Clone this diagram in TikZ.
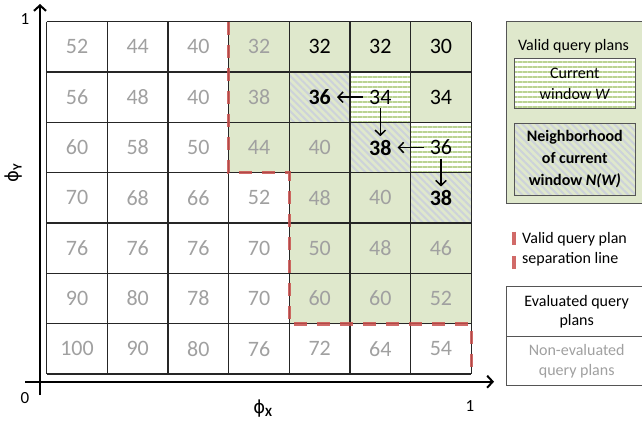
\documentclass[tikz,border=0pt]{standalone}
\usepackage{fontspec}
\setmainfont{Carlito}
\newfontfamily\phifont{DejaVu Sans}
\usetikzlibrary{arrows.meta,patterns.meta}
\definecolor{validgreen}{HTML}{DFE8CC}
\definecolor{stripegreen}{HTML}{BAD392}
\definecolor{hatchgray}{HTML}{CDD2DA}
\definecolor{plangray}{HTML}{A0A0A0}
\definecolor{sepred}{HTML}{C9504D}
\definecolor{boxgray}{HTML}{555555}
\tikzset{
  cellne/.style={text=plangray, font=\fontsize{22}{26}\selectfont, inner xsep=6pt, inner ysep=3.5pt},
  cellev/.style={text=black, font=\fontsize{22}{26}\selectfont, inner xsep=6pt, inner ysep=3.5pt},
  cellnb/.style={text=black, font=\fontsize{22}{26}\selectfont\bfseries, inner xsep=6pt, inner ysep=3.5pt},
  gridline/.style={draw=black!85, line width=1.1pt},
  sepline/.style={draw=sepred, opacity=0.85, line width=3.3pt, dash pattern=on 13pt off 10pt},
  qarrow/.style={draw=black, line width=1.5pt, -{Straight Barb[length=5pt,width=10.5pt]}},
  axisline/.style={draw=black, line width=2pt, -{Straight Barb[length=5.5pt,width=12pt]}},
  axislabel/.style={font=\fontsize{17}{20}\selectfont},
  philabel/.style={font=\fontsize{18}{22}\selectfont},
  legbox/.style={draw=boxgray, line width=1pt, inner sep=0pt},
  legtext/.style={font=\fontsize{16}{21.7}\selectfont, align=center},
  hstripes/.style={pattern={Lines[angle=0,distance=5pt,line width=2pt]}, pattern color=stripegreen},
  dhatch/.style={pattern={Lines[angle=-45,distance=5pt,line width=2pt]}, pattern color=hatchgray},
}
\begin{document}
\begin{tikzpicture}[x=1pt,y=-1pt]
\useasboundingbox (0,0) rectangle (642,422);
\def\gx{46.7}\def\cw{60.66}\def\gy{21.7}\def\rh{50.33}
% valid region
\fill[validgreen] (228.7,21.7) -- (471.3,21.7) -- (471.3,324) -- (289.3,324) -- (289.3,172.7) -- (228.7,172.7) -- cycle;
% current window cells
\fill[white] (350,72) rectangle (410.7,122.3);
\fill[hstripes] (350,72) rectangle (410.7,122.3);
\fill[white] (410.7,122.3) rectangle (471.3,172.7);
\fill[hstripes] (410.7,122.3) rectangle (471.3,172.7);
% neighborhood cells
\fill[dhatch] (289.3,72) rectangle (350,122.3);
\fill[dhatch] (350,122.3) rectangle (410.7,172.7);
\fill[dhatch] (410.7,172.7) rectangle (471.3,223);
% grid
\foreach \i in {0,...,7} {
  \draw[gridline] ({\gx+\cw*\i},\gy) -- ({\gx+\cw*\i},{\gy+\rh*7});
  \draw[gridline] (\gx,{\gy+\rh*\i}) -- ({\gx+\cw*7},{\gy+\rh*\i});
}
% separation line
\draw[sepline] (228.7,21.7) -- (228.7,172.7) -- (289.3,172.7) -- (289.3,324) -- (471.3,324) -- (471.8,324) -- (471.8,374);
% cell values
\foreach \r/\rowlist in {
  0/{52/cellne,44/cellne,40/cellne,32/cellne,32/cellev,32/cellev,30/cellev},
  1/{56/cellne,48/cellne,40/cellne,38/cellne,36/cellnb,34/cellev,34/cellev},
  2/{60/cellne,58/cellne,50/cellne,44/cellne,40/cellne,38/cellnb,36/cellev},
  3/{70/cellne,68/cellne,66/cellne,52/cellne,48/cellne,40/cellne,38/cellnb},
  4/{76/cellne,76/cellne,76/cellne,70/cellne,50/cellne,48/cellne,46/cellne},
  5/{90/cellne,80/cellne,78/cellne,70/cellne,60/cellne,60/cellne,52/cellne},
  6/{100/cellne,90/cellne,80/cellne,76/cellne,72/cellne,64/cellne,54/cellne}} {
  \foreach \v/\s [count=\c from 0] in \rowlist {
    \node[\s] (v\r\c) at ({\gx+\cw*(\c+0.5)},{\gy+\rh*(\r+0.5)}) {\v};
  }
}
% search arrows
\draw[qarrow] (v15.west) -- (v14.east);
\draw[qarrow] (v15.south) -- (v25.north);
\draw[qarrow] (v26.west) -- (v25.east);
\draw[qarrow] (v26.south) -- (v36.north);
% axes
\coordinate (ybot) at (40,395);
\coordinate (ytop) at (40,4);
\coordinate (xleft) at (25,381.7);
\coordinate (xright) at (494,381.7);
\draw[axisline] (ybot) -- (ytop);
\draw[axisline] (xleft) -- (xright);
\node[axislabel] (yone) at (25,19) {1};
\node[axislabel] (zero) at (25,398) {0};
\node[axislabel] (xone) at (470,406) {1};
\node[philabel] (phix) at (263,409) {{\phifont ϕ}\textsubscript{\bfseries X}};
\node[philabel, rotate=90] (phiy) at (14,173) {{\phifont ϕ}\textsubscript{\bfseries Y}};
% legend
\node[legbox, fill=validgreen, minimum width=140pt, minimum height=181.3pt] (validbox) at (576.7,112.35) {};
\node[legtext] (validtext) at (573.5,46.5) {Valid query plans};
\node[legbox, legtext, preaction={fill=white}, hstripes, minimum width=121pt, minimum height=50pt] (curwin) at (574.8,84) {Current\\window \textit{W}};
\node[legbox, legtext, preaction={fill=validgreen}, dhatch, minimum width=121pt, minimum height=71.7pt, font=\fontsize{16}{21.7}\selectfont\bfseries] (neigh) at (574.8,159.2) {Neighborhood\\of current\\window \textit{N(W)}};
\coordinate (bar1a) at (514,231.7); \coordinate (bar1b) at (514,245);
\coordinate (bar2a) at (514,256); \coordinate (bar2b) at (514,269);
\draw[draw=sepred, opacity=0.85, line width=3.3pt] (bar1a) -- (bar1b);
\draw[draw=sepred, opacity=0.85, line width=3.3pt] (bar2a) -- (bar2b);
\node[anchor=west, align=left, font=\fontsize{16}{20}\selectfont, inner sep=0pt] (septext) at (522,249) {Valid query plan\\separation line};
\node[legbox, legtext, fill=white, minimum width=140pt, minimum height=50pt, font=\fontsize{16}{19}\selectfont] (evalbox) at (576.7,311.7) {Evaluated query\\plans};
\node[legbox, legtext, fill=white, text=plangray, minimum width=140pt, minimum height=49pt, font=\fontsize{16}{19.5}\selectfont] (nevalbox) at (576.7,361.2) {Non-evaluated\\query plans};
\end{tikzpicture}
\end{document}
